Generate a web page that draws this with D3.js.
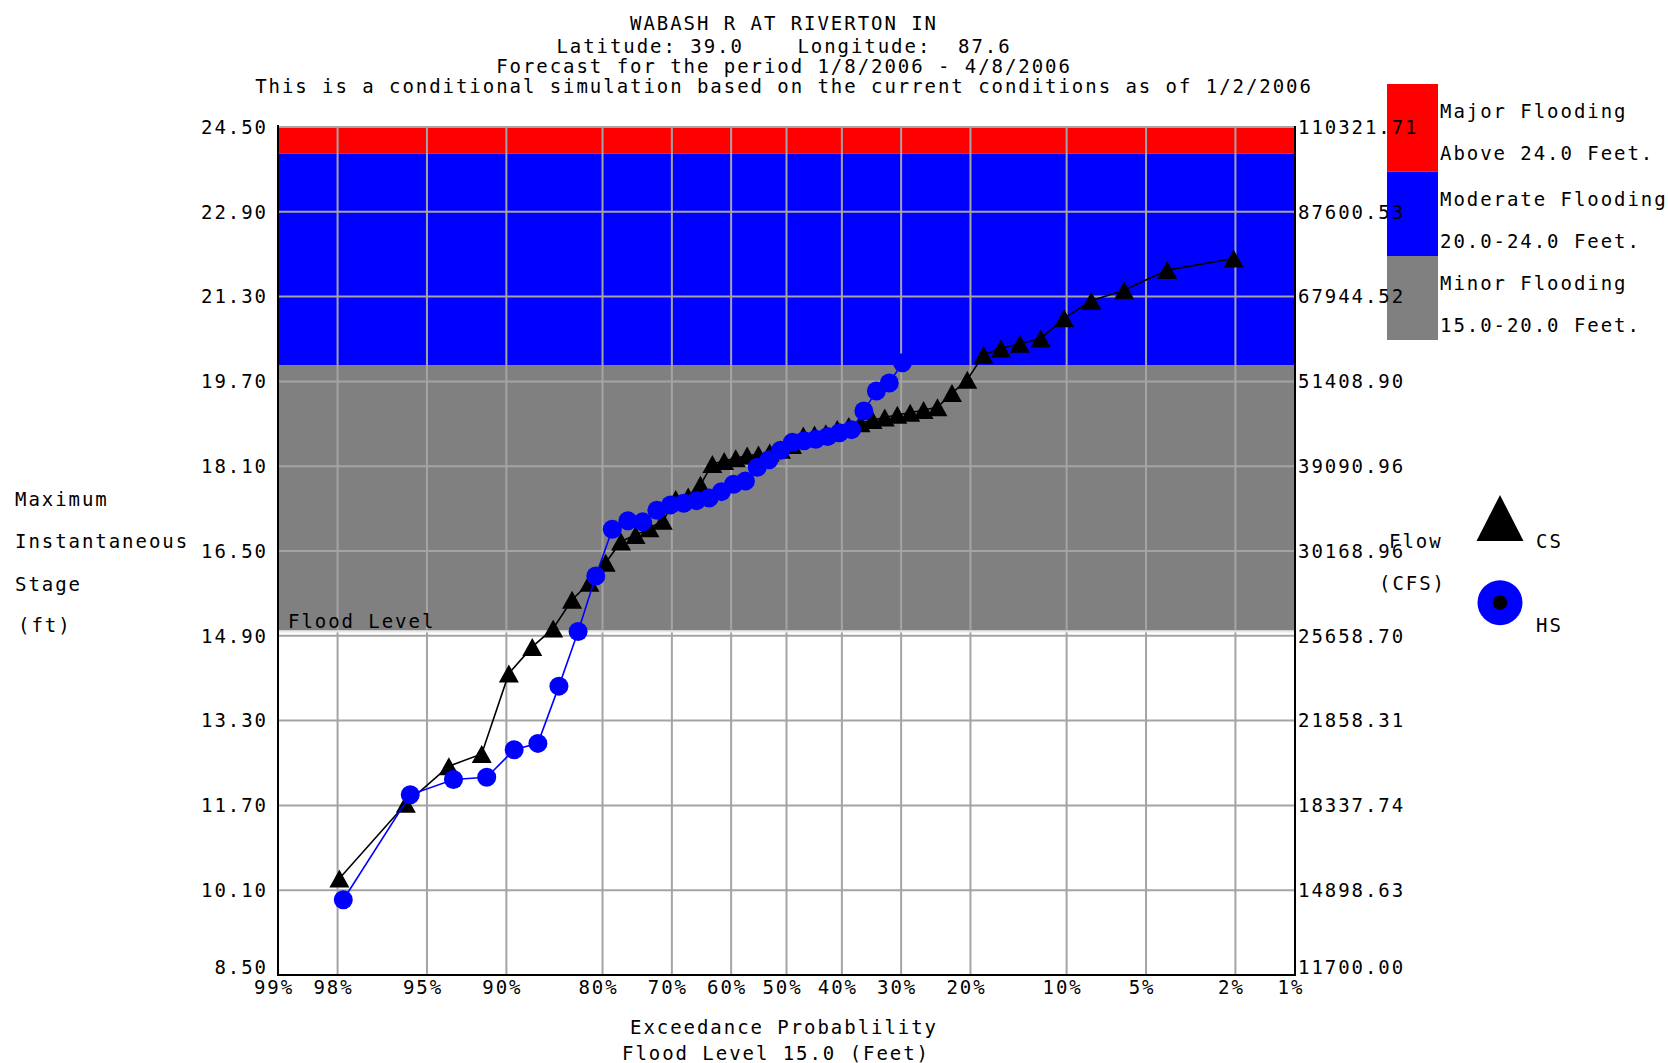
<!DOCTYPE html>
<html><head><meta charset="utf-8">
<script src="https://cdn.jsdelivr.net/npm/d3@7"></script>
<style>
html,body{margin:0;padding:0;background:#fff;}
svg text{font-family:"DejaVu Sans Mono",monospace;font-size:19px;letter-spacing:1.95px;fill:#000;}
</style></head><body>
<svg id="c" width="1668" height="1063"></svg>
<script>
// ---------- DATA ----------
const titleLines = [
  "WABASH R AT RIVERTON IN",
  "Latitude: 39.0    Longitude:  87.6",
  "Forecast for the period 1/8/2006 - 4/8/2006",
  "This is a conditional simulation based on the current conditions as of 1/2/2006"
];
const probTicks = [99, 98, 95, 90, 80, 70, 60, 50, 40, 30, 20, 10, 5, 2, 1];
const stageTicks = [8.5, 10.1, 11.7, 13.3, 14.9, 16.5, 18.1, 19.7, 21.3, 22.9, 24.5];
const stageTickLabels = ["8.50","10.10","11.70","13.30","14.90","16.50","18.10","19.70","21.30","22.90","24.50"];
const flowTickLabels = ["11700.00","14898.63","18337.74","21858.31","25658.70","30168.96","39090.96","51408.90","67944.52","87600.53","110321.71"];
const bandLow = [24.0, 20.0, 15.0];
const bandHigh = [24.5, 24.0, 20.0];
const legendLines = [["Major Flooding","Above 24.0 Feet."],["Moderate Flooding","20.0-24.0 Feet."],["Minor Flooding","15.0-20.0 Feet."]];
const floodLevel = 15.0;
const yTitle = ["Maximum","Instantaneous","Stage","(ft)"];
const xTitle = ["Exceedance Probablility","Flood Level 15.0 (Feet)"];
const seriesNames = ["CS","HS"];

// CS: exceedance probability (%) and stage (ft)
const csProb = [97.96,95.92,93.88,91.84,89.80,87.76,85.71,83.67,81.63,79.59,77.55,75.51,73.47,71.43,69.39,67.35,65.31,63.27,61.22,59.18,57.14,55.10,53.06,51.02,48.98,46.94,44.90,42.86,40.82,38.78,36.73,34.69,32.65,30.61,28.57,26.53,24.49,22.45,20.41,18.37,16.33,14.29,12.24,10.20,8.16,6.12,4.08,2.04];
const csStage = [10.32,11.73,12.44,12.67,14.19,14.69,15.04,15.58,15.90,16.28,16.68,16.80,16.93,17.07,17.48,17.53,17.75,18.14,18.20,18.25,18.30,18.32,18.36,18.41,18.50,18.68,18.70,18.72,18.80,18.86,18.91,18.97,19.02,19.07,19.11,19.16,19.21,19.48,19.73,20.20,20.32,20.41,20.51,20.89,21.22,21.42,21.80,22.02];
// HS
const hsProb = [97.87,95.74,93.62,91.49,89.36,87.23,85.11,82.98,80.85,78.72,76.60,74.47,72.34,70.21,68.09,65.96,63.83,61.70,59.57,57.45,55.32,53.19,51.06,48.94,46.81,44.68,42.55,40.43,38.30,36.17,34.04,31.91,29.79];
const hsStage = [9.92,11.90,12.19,12.23,12.75,12.87,13.95,14.98,16.03,16.91,17.07,17.05,17.27,17.37,17.40,17.45,17.50,17.62,17.76,17.82,18.08,18.22,18.40,18.55,18.58,18.61,18.66,18.73,18.79,19.14,19.52,19.67,20.05];

// ---------- helpers ----------
function qnorm(p){
  const a=[-3.969683028665376e+01,2.209460984245205e+02,-2.759285104469687e+02,1.383577518672690e+02,-3.066479806614716e+01,2.506628277459239e+00];
  const b=[-5.447609879822406e+01,1.615858368580409e+02,-1.556989798598866e+02,6.680131188771972e+01,-1.328068155288572e+01];
  const c=[-7.784894002430293e-03,-3.223964580411365e-01,-2.400758277161838e+00,-2.549732539343734e+00,4.374664141464968e+00,2.938163982698783e+00];
  const d=[7.784695709041462e-03,3.224671290700398e-01,2.445134137142996e+00,3.754408661907416e+00];
  const pl=0.02425, ph=1-pl; let q,r;
  if(p<pl){q=Math.sqrt(-2*Math.log(p));return (((((c[0]*q+c[1])*q+c[2])*q+c[3])*q+c[4])*q+c[5])/((((d[0]*q+d[1])*q+d[2])*q+d[3])*q+1);}
  if(p<=ph){q=p-0.5;r=q*q;return (((((a[0]*r+a[1])*r+a[2])*r+a[3])*r+a[4])*r+a[5])*q/(((((b[0]*r+b[1])*r+b[2])*r+b[3])*r+b[4])*r+1);}
  q=Math.sqrt(-2*Math.log(1-p));return -(((((c[0]*q+c[1])*q+c[2])*q+c[3])*q+c[4])*q+c[5])/((((d[0]*q+d[1])*q+d[2])*q+d[3])*q+1);
}

// ---------- layout ----------
const L=278, R=1295, T=127, B=975;
const xz = d3.scaleLinear().domain([qnorm(0.99), qnorm(0.01)]).range([L, R]);
const x = p => xz(qnorm(p/100));
const y = d3.scaleLinear().domain([8.5, 24.5]).range([B, T]);
const bandColors = ["#ff0000","#0000ff","#808080"];
const gridColor = "#a4a4a4";

const svg = d3.select("#c");
svg.append("rect").attr("width",1668).attr("height",1063).attr("fill","#fff");

// bands
svg.selectAll("rect.band").data(bandLow).enter().append("rect")
  .attr("x",L).attr("width",R-L)
  .attr("y",(d,i)=>y(bandHigh[i])).attr("height",(d,i)=>y(d)-y(bandHigh[i]))
  .attr("fill",(d,i)=>bandColors[i]);

// grid
const g = svg.append("g").attr("stroke",gridColor).attr("stroke-width",2);
g.selectAll("line.v").data(probTicks).enter().append("line")
  .attr("x1",d=>x(d)).attr("x2",d=>x(d)).attr("y1",T).attr("y2",B);
g.selectAll("line.h").data(stageTicks).enter().append("line")
  .attr("x1",L).attr("x2",R).attr("y1",d=>y(d)).attr("y2",d=>y(d));

// flood level line
svg.append("line").attr("x1",L).attr("x2",R).attr("y1",y(floodLevel)+1).attr("y2",y(floodLevel)+1)
  .attr("stroke","#e8e8e8").attr("stroke-width",2);

// axes frame
const ax = svg.append("g").attr("stroke","#000").attr("stroke-width",2);
ax.append("line").attr("x1",L).attr("x2",L).attr("y1",T-2).attr("y2",B+1);
ax.append("line").attr("x1",R).attr("x2",R).attr("y1",T-1).attr("y2",B+1);
ax.append("line").attr("x1",L-1).attr("x2",R+1).attr("y1",B).attr("y2",B);

// Flood Level label
svg.append("text").attr("x",288).attr("y",620.7).attr("dy","0.36em").text("Flood Level");

// series
const cs = csProb.map((p,i)=>[x(p), y(csStage[i])]);
const hs = hsProb.map((p,i)=>[x(p), y(hsStage[i])]);
const line = d3.line();
svg.append("path").attr("d",line(cs)).attr("fill","none").attr("stroke","#000").attr("stroke-width",1.6);
const tri = (w,h)=>`M0,${-h/2}L${w/2},${h/2}L${-w/2},${h/2}Z`;
svg.append("g").selectAll("path").data(cs).enter().append("path")
  .attr("d",tri(20,18)).attr("transform",d=>`translate(${d[0]},${d[1]})`).attr("fill","#000");
svg.append("path").attr("d",line(hs)).attr("fill","none").attr("stroke","#0000ff").attr("stroke-width",1.6);
svg.append("g").selectAll("circle").data(hs).enter().append("circle")
  .attr("cx",d=>d[0]).attr("cy",d=>d[1]).attr("r",9.5).attr("fill","#0000ff");

// titles
svg.selectAll("text.title").data(titleLines).enter().append("text")
  .attr("x",784).attr("y",(d,i)=>[23,46.5,66.5,86][i]).attr("dy","0.36em")
  .attr("text-anchor","middle").style("white-space","pre").attr("xml:space","preserve").text(d=>d);

// left tick labels
svg.selectAll("text.yl").data(stageTicks).enter().append("text")
  .attr("x",268).attr("y",(d,i)=>y(d)-(i===0?8:0)).attr("dy","0.36em")
  .attr("text-anchor","end").text((d,i)=>stageTickLabels[i]);

// x tick labels
svg.selectAll("text.xl").data(probTicks).enter().append("text")
  .attr("x",d=>x(d)-4).attr("y",987.5).attr("dy","0.36em")
  .attr("text-anchor","middle").text(d=>d+"%");

// axis titles
svg.append("text").attr("x",784).attr("y",1027).attr("dy","0.36em").attr("text-anchor","middle").text(xTitle[0]);
svg.append("text").attr("x",776).attr("y",1053).attr("dy","0.36em").attr("text-anchor","middle").text(xTitle[1]);
svg.selectAll("text.yt").data(yTitle).enter().append("text")
  .attr("x",(d,i)=>i===3?18:15).attr("y",(d,i)=>[499,541.5,584.5,625.5][i]).attr("dy","0.36em").text(d=>d);

// flood legend
const lgY = [84, 171.7, 256, 340];
svg.selectAll("rect.lg").data(bandColors).enter().append("rect")
  .attr("x",1387).attr("width",51).attr("y",(d,i)=>lgY[i]).attr("height",(d,i)=>lgY[i+1]-lgY[i])
  .attr("fill",d=>d);
legendLines.forEach((pair,i)=>{
  svg.append("text").attr("x",1440).attr("y",lgY[i]+27.5).attr("dy","0.36em").text(pair[0]);
  svg.append("text").attr("x",1440).attr("y",lgY[i]+69).attr("dy","0.36em").text(pair[1]);
});

// right tick labels (drawn over legend)
svg.selectAll("text.yr").data(stageTicks).enter().append("text")
  .attr("x",1298).attr("y",(d,i)=>y(d)-(i===0?8:0)).attr("dy","0.36em")
  .text((d,i)=>flowTickLabels[i]);

// flow title + series legend
svg.append("text").attr("x",1389).attr("y",541).attr("dy","0.36em").text("Flow");
svg.append("text").attr("x",1379).attr("y",583.5).attr("dy","0.36em").text("(CFS)");
svg.append("path").attr("d",tri(47,46)).attr("transform","translate(1500,518)").attr("fill","#000");
svg.append("text").attr("x",1536).attr("y",541).attr("dy","0.36em").text(seriesNames[0]);
svg.append("circle").attr("cx",1500).attr("cy",602.7).attr("r",22.5).attr("fill","#0000ff");
svg.append("circle").attr("cx",1500).attr("cy",602.7).attr("r",7.3).attr("fill","#000");
svg.append("text").attr("x",1536).attr("y",625).attr("dy","0.36em").text(seriesNames[1]);
</script></body></html>
